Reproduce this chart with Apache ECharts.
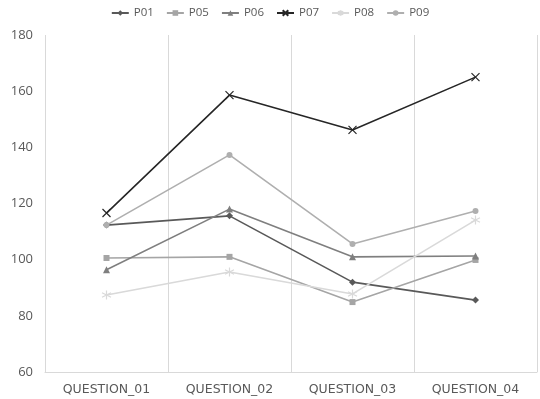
<!DOCTYPE html>
<html>
<head>
<meta charset="utf-8">
<script src="https://cdn.jsdelivr.net/npm/echarts@6/dist/echarts.min.js"></script>
<style>
  html, body { margin: 0; padding: 0; background: #fff; }
  #chart { width: 540px; height: 399px; }
</style>
</head>
<body>
<div id="chart"></div>
<script>
// Categories and scores per participant
const categories = ['QUESTION_01', 'QUESTION_02', 'QUESTION_03', 'QUESTION_04'];
const P01 = [112.3, 115.6, 92.0, 85.6];
const P05 = [100.6, 101.0, 84.9, 99.9];
const P06 = [96.4, 118.0, 101.0, 101.3];
const P07 = [116.6, 158.6, 146.2, 165.0];
const P08 = [87.4, 95.6, 87.8, 114.1];
const P09 = [112.3, 137.3, 105.6, 117.3];
const yTicks = { min: 60, max: 180, step: 20 };

const crossPath = 'path://M0,0L10,10M10,0L0,10';
const starPath = 'path://M5,0L5,10M0,2.5L10,7.5M0,7.5L10,2.5';

const seriesDefs = [
  { name: 'P01', data: P01, color: '#595959', symbol: 'diamond', size: 7 },
  { name: 'P05', data: P05, color: '#a5a5a5', symbol: 'rect', size: 6 },
  { name: 'P06', data: P06, color: '#7f7f7f', symbol: 'triangle', size: 7 },
  { name: 'P07', data: P07, color: '#262626', symbol: crossPath, size: 8, stroke: true },
  { name: 'P08', data: P08, color: '#d9d9d9', symbol: starPath, size: 9, stroke: true },
  { name: 'P09', data: P09, color: '#afafaf', symbol: 'circle', size: 6 }
];

const chart = echarts.init(document.getElementById('chart'), null, { renderer: 'canvas' });

chart.setOption({
  animation: false,
  backgroundColor: '#ffffff',
  textStyle: { fontFamily: '"Open Sans", sans-serif' },
  legend: {
    top: 2,
    left: 'center',
    itemWidth: 17,
    itemHeight: 7,
    itemGap: 12,
    textStyle: { color: '#595959', fontSize: 11.5, fontFamily: '"Open Sans", sans-serif' },
    data: seriesDefs.map(s => s.name)
  },
  grid: { left: 45, right: 3, top: 35, bottom: 27, containLabel: false },
  xAxis: {
    type: 'category',
    data: categories,
    boundaryGap: true,
    axisLine: { show: true, lineStyle: { color: '#d9d9d9', width: 1 } },
    axisTick: { show: false },
    splitLine: { show: true, lineStyle: { color: '#d9d9d9', width: 1 } },
    axisLabel: { color: '#595959', fontSize: 12.5, margin: 11, fontFamily: '"DejaVu Sans", sans-serif' }
  },
  yAxis: {
    type: 'value',
    min: yTicks.min,
    max: yTicks.max,
    interval: yTicks.step,
    axisLine: { show: false },
    axisTick: { show: false },
    splitLine: { show: false },
    axisLabel: { color: '#595959', fontSize: 13, margin: 12, fontFamily: '"Open Sans", sans-serif' }
  },
  series: seriesDefs.map(s => ({
    name: s.name,
    type: 'line',
    data: s.data,
    symbol: s.symbol,
    symbolSize: s.size,
    showSymbol: true,
    lineStyle: { color: s.color, width: 1.6 },
    itemStyle: s.stroke
      ? { color: 'rgba(0,0,0,0)', borderColor: s.color, borderWidth: 1.2 }
      : { color: s.color, borderColor: s.color, borderWidth: 0 }
  }))
});
</script>
</body>
</html>
